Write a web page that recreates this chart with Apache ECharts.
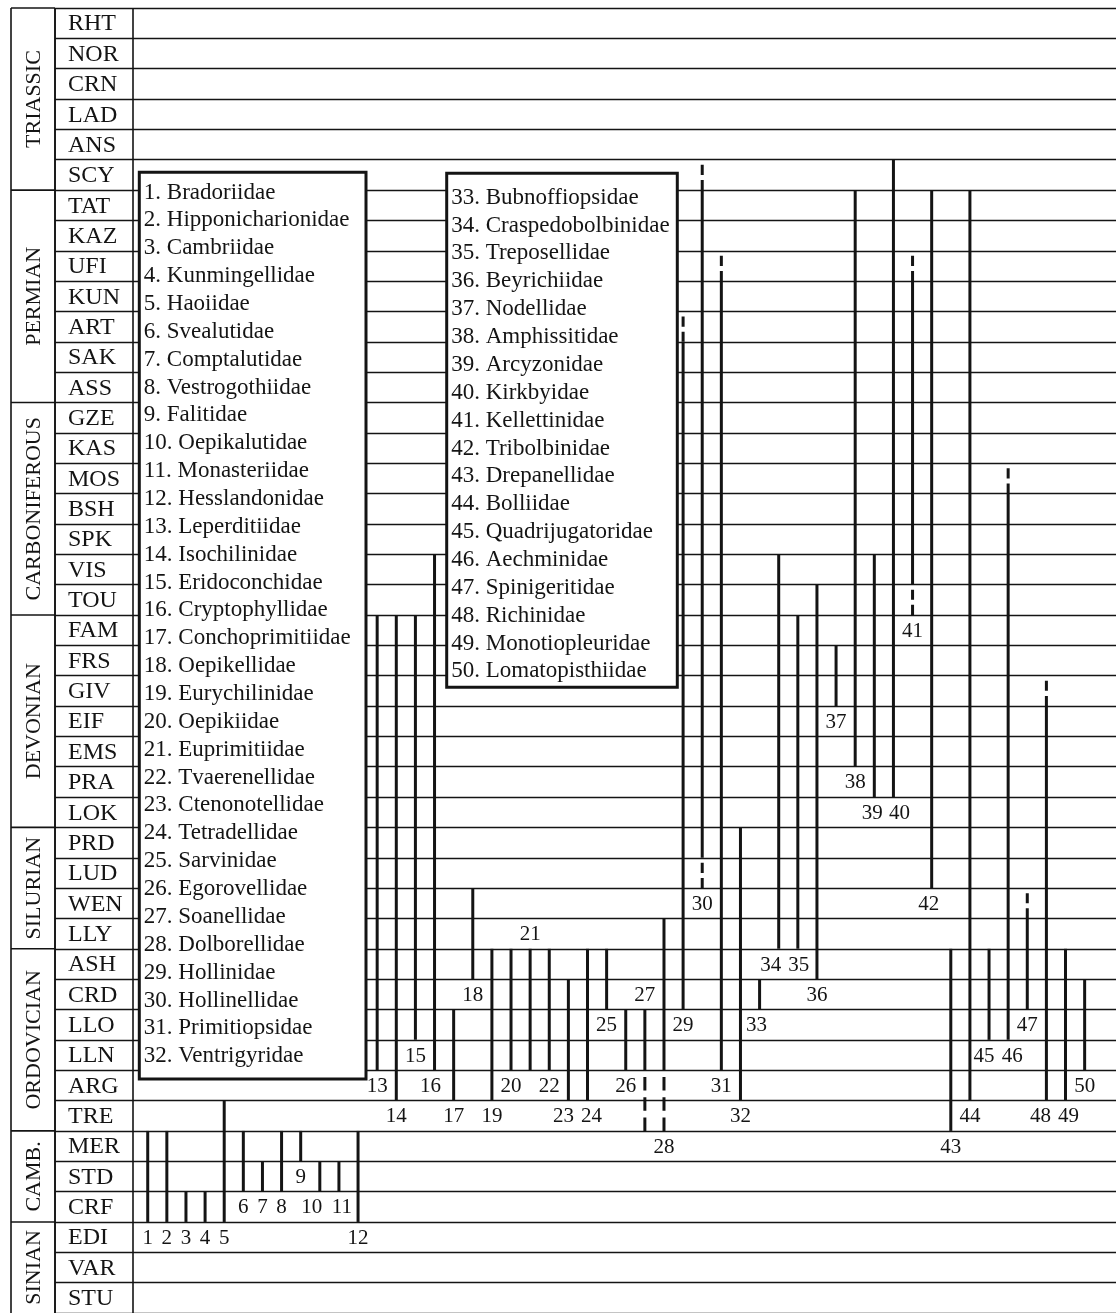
<!DOCTYPE html>
<html>
<head>
<meta charset="utf-8">
<script src="https://cdn.jsdelivr.net/npm/echarts@6/dist/echarts.min.js"></script>
<style>
  html, body { margin: 0; padding: 0; background: #fff; }
  #chart { width: 1116px; height: 1313px; }
</style>
</head>
<body>
<div id="chart"></div>
<script>
// Stratigraphic stages, youngest first
const stages = ['RHT','NOR','CRN','LAD','ANS','SCY','TAT','KAZ','UFI','KUN','ART','SAK','ASS',
  'GZE','KAS','MOS','BSH','SPK','VIS','TOU','FAM','FRS','GIV','EIF','EMS','PRA','LOK',
  'PRD','LUD','WEN','LLY','ASH','CRD','LLO','LLN','ARG','TRE','MER','STD','CRF','EDI','VAR','STU'];

// Periods and the youngest stage of each
const periods = ['TRIASSIC','PERMIAN','CARBONIFEROUS','DEVONIAN','SILURIAN','ORDOVICIAN','CAMB.','SINIAN'];
const periodTopStage = ['RHT','TAT','GZE','FAM','PRD','ASH','MER','EDI'];

// Ostracod families, numbered 1..50
const families = ['Bradoriidae','Hipponicharionidae','Cambriidae','Kunmingellidae','Haoiidae',
  'Svealutidae','Comptalutidae','Vestrogothiidae','Falitidae','Oepikalutidae',
  'Monasteriidae','Hesslandonidae','Leperditiidae','Isochilinidae','Eridoconchidae',
  'Cryptophyllidae','Conchoprimitiidae','Oepikellidae','Eurychilinidae','Oepikiidae',
  'Euprimitiidae','Tvaerenellidae','Ctenonotellidae','Tetradellidae','Sarvinidae',
  'Egorovellidae','Soanellidae','Dolborellidae','Hollinidae','Hollinellidae',
  'Primitiopsidae','Ventrigyridae','Bubnoffiopsidae','Craspedobolbinidae','Treposellidae',
  'Beyrichiidae','Nodellidae','Amphissitidae','Arcyzonidae','Kirkbyidae',
  'Kellettinidae','Tribolbinidae','Drepanellidae','Bolliidae','Quadrijugatoridae',
  'Aechminidae','Spinigeritidae','Richinidae','Monotiopleuridae','Lomatopisthiidae'];

// Youngest stage of the confirmed range
const rangeTop = ['MER','MER','CRF','CRF','TRE','MER','STD','MER','MER','STD',
  'STD','MER','FAM','FAM','FAM','VIS','LLO','WEN','ASH','ASH',
  'ASH','ASH','CRD','ASH','ASH','LLO','LLO','LLY','SAK','TAT',
  'KUN','PRD','CRD','VIS','FAM','TOU','FRS','TAT','VIS','SCY',
  'KUN','TAT','ASH','TAT','ASH','BSH','LLY','EIF','ASH','CRD'];

// Oldest stage of the confirmed range
const rangeBase = ['CRF','CRF','CRF','CRF','CRF','STD','STD','STD','MER','STD',
  'STD','CRF','LLN','ARG','LLO','LLN','ARG','ASH','ARG','LLN',
  'LLN','LLN','ARG','ARG','CRD','LLN','LLN','LLN','CRD','PRD',
  'LLN','ARG','CRD','LLY','LLY','ASH','GIV','EMS','PRA','PRA',
  'VIS','LUD','TRE','ARG','LLO','LLO','CRD','ARG','ARG','LLN'];

// Uncertain (dashed) extensions: family number -> farthest stage reached
const uncertainUp = { 29: 'ART', 30: 'SCY', 31: 'UFI', 41: 'UFI', 46: 'MOS', 47: 'WEN', 48: 'GIV' };
const uncertainDown = { 27: 'TRE', 28: 'TRE', 30: 'LUD', 41: 'TOU' };

// Families whose number is written above the range instead of below
const labelAbove = [21, 27];

// Horizontal nudges (px) that keep neighbouring two-digit numbers apart
const labelNudge = { 10: -8, 11: 3, 16: -4, 23: -5, 24: 4, 33: -3, 34: -8, 35: 1,
  39: -2, 40: 6, 42: -3, 45: -5, 46: 4, 48: -6, 49: 3 };

const INK = '#141414';
const SERIF = '"Liberation Serif", "Times New Roman", serif';
const ROWS = stages.length;
const ROW_PX = 30.5;
const si = s => stages.indexOf(s);

const rangeData = families.map((name, i) => {
  const n = i + 1;
  const top = si(rangeTop[i]);
  const base = si(rangeBase[i]) + 1;
  const dTop = uncertainUp[n] ? si(uncertainUp[n]) : top;
  const dBase = uncertainDown[n] ? si(uncertainDown[n]) + 1 : base;
  return [n, top, base, dTop, dBase, labelAbove.includes(n) ? 1 : 0];
});

const periodData = periods.map((p, i) => {
  const start = si(periodTopStage[i]);
  const end = i + 1 < periods.length ? si(periodTopStage[i + 1]) : ROWS;
  return [start, end];
});

const stageData = stages.map((s, i) => [0, i]);

const hiddenAxisParts = { axisLine: { show: false }, axisTick: { show: false }, axisLabel: { show: false } };
const yBase = Object.assign({ type: 'value', inverse: true, min: 0, max: ROWS, interval: 1 }, hiddenAxisParts);
const xFrame = Object.assign({ type: 'value', min: 0, max: 1, interval: 1,
  splitLine: { show: true, lineStyle: { color: INK, width: 1.6 } } }, hiddenAxisParts);
const rowLines = { show: true, lineStyle: { color: INK, width: 1.4 } };

function dashedSegment(api, x, a, b) {
  const p = api.coord([x, a]);
  const q = api.coord([x, b]);
  const len = q[1] - p[1];
  const n = Math.max(2, Math.round(len / 20));
  const gap = len / (3 * n);
  const dash = 2 * gap;
  return {
    type: 'line',
    shape: { x1: p[0], y1: p[1], x2: q[0], y2: q[1] },
    style: { stroke: INK, lineWidth: 3, lineDash: [dash, gap], lineDashOffset: dash }
  };
}

// Legend boxes listing the family names
function legendBox(x, y, w, h, firstNo, lastNo, textY) {
  const lines = families.slice(firstNo - 1, lastNo).map((f, k) => (firstNo + k) + '. ' + f);
  return [
    { type: 'rect', z: 50, shape: { x: x, y: y, width: w, height: h },
      style: { fill: '#fff', stroke: INK, lineWidth: 3 } },
    { type: 'text', z: 51, x: x + 4.5, y: textY,
      style: { text: lines.join('\n'), font: '23px ' + SERIF, fill: INK, lineHeight: 27.86,
               align: 'left', verticalAlign: 'top' } }
  ];
}

const chart = echarts.init(document.getElementById('chart'), null, { renderer: 'canvas' });

chart.setOption({
  animation: false,
  backgroundColor: '#fff',
  grid: [
    { left: 11, width: 44, top: 8, height: ROWS * ROW_PX },
    { left: 55, width: 78, top: 8, height: ROWS * ROW_PX },
    { left: 133, right: 0, top: 8, height: ROWS * ROW_PX }
  ],
  xAxis: [
    Object.assign({ gridIndex: 0 }, xFrame),
    Object.assign({ gridIndex: 1 }, xFrame),
    { gridIndex: 2, type: 'value', min: 0.23, max: 51.64, show: false }
  ],
  yAxis: [
    Object.assign({ gridIndex: 0, splitLine: { show: false } }, yBase),
    Object.assign({ gridIndex: 1, splitLine: rowLines }, yBase),
    Object.assign({ gridIndex: 2, splitLine: rowLines }, yBase)
  ],
  graphic: [].concat(
    legendBox(139.3, 172.3, 226.7, 906.7, 1, 32, 178.6),
    legendBox(446.7, 173.3, 230.6, 514, 33, 50, 183.8)
  ),
  series: [
    {
      // period column: boundaries and rotated names
      type: 'custom', coordinateSystem: 'cartesian2d', xAxisIndex: 0, yAxisIndex: 0,
      data: periodData, encode: { x: -1, y: [0, 1] },
      renderItem(params, api) {
        const s = api.value(0), e = api.value(1);
        const l = api.coord([0, s]), r = api.coord([1, s]);
        const mid = api.coord([0.5, (s + e) / 2]);
        return { type: 'group', children: [
          { type: 'line', shape: { x1: l[0], y1: l[1], x2: r[0], y2: r[1] },
            style: { stroke: INK, lineWidth: 1.6 } },
          { type: 'text', x: mid[0] + 1, y: mid[1], rotation: Math.PI / 2,
            style: { text: periods[params.dataIndex], font: '22px ' + SERIF, fill: INK,
                     align: 'center', verticalAlign: 'middle' } }
        ] };
      }
    },
    {
      // stage names
      type: 'custom', coordinateSystem: 'cartesian2d', xAxisIndex: 1, yAxisIndex: 1,
      data: stageData, encode: { x: 0, y: 1 },
      renderItem(params, api) {
        const p = api.coord([0, api.value(1) + 0.5]);
        return { type: 'text', x: p[0] + 13, y: p[1] + 1,
          style: { text: stages[params.dataIndex], font: '24px ' + SERIF, fill: INK,
                   align: 'left', verticalAlign: 'middle' } };
      }
    },
    {
      // family ranges
      type: 'custom', coordinateSystem: 'cartesian2d', xAxisIndex: 2, yAxisIndex: 2,
      data: rangeData, encode: { x: 0, y: [1, 2, 3, 4] },
      renderItem(params, api) {
        const x = api.value(0);
        const top = api.value(1), base = api.value(2);
        const dTop = api.value(3), dBase = api.value(4), above = api.value(5);
        const p = api.coord([x, top]), q = api.coord([x, base]);
        const children = [
          { type: 'line', shape: { x1: p[0], y1: p[1], x2: q[0], y2: q[1] },
            style: { stroke: INK, lineWidth: 3 } }
        ];
        if (dTop < top) children.push(dashedSegment(api, x, dTop, top));
        if (dBase > base) children.push(dashedSegment(api, x, base, dBase));
        const lp = api.coord([x, above ? dTop - 0.5 : dBase + 0.5]);
        children.push({ type: 'text', x: lp[0] + (labelNudge[x] || 0), y: lp[1] + 1,
          style: { text: String(x), font: '21px ' + SERIF, fill: INK,
                   align: 'center', verticalAlign: 'middle' } });
        return { type: 'group', children };
      }
    }
  ]
});
</script>
</body>
</html>
